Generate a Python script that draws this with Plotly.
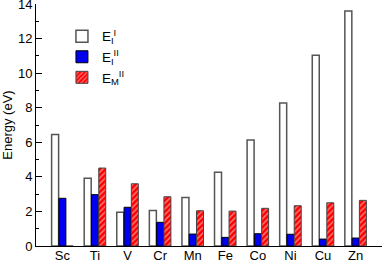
import plotly.graph_objects as go

elements = ["Sc", "Ti", "V", "Cr", "Mn", "Fe", "Co", "Ni", "Cu", "Zn"]
e_i_1 = [6.45, 3.92, 1.95, 2.06, 2.80, 4.26, 6.13, 8.27, 11.03, 13.59]
e_i_2 = [2.76, 2.97, 2.24, 1.37, 0.69, 0.50, 0.71, 0.68, 0.40, 0.46]
e_m_2 = [0.0, 4.51, 3.60, 2.85, 2.04, 2.02, 2.18, 2.33, 2.50, 2.64]
y_ticks = [0, 2, 4, 6, 8, 10, 12, 14]

x = list(range(len(elements)))

fig = go.Figure()
fig.add_trace(go.Bar(
    x=x, y=e_i_1, name="E<sub>I</sub><sup>I</sup>",
    marker=dict(color="white", line=dict(color="#555555", width=1.5)),
))
fig.add_trace(go.Bar(
    x=x, y=e_i_2, name="E<sub>I</sub><sup>II</sup>",
    marker=dict(color="#0000ee", line=dict(color="black", width=1)),
))
fig.add_trace(go.Bar(
    x=x, y=e_m_2, name="E<sub>M</sub><sup>II</sup>",
    marker=dict(color="#ff0000", line=dict(color="#444444", width=1),
                pattern=dict(shape="/", fgcolor="white", fillmode="overlay",
                             size=4, solidity=0.35)),
))

fig.update_layout(
    width=382, height=261,
    margin=dict(l=36, r=0, t=4, b=15, autoexpand=False),
    paper_bgcolor="white", plot_bgcolor="white",
    barmode="group", bargap=0.33, bargroupgap=0.04,
    font=dict(family="Liberation Sans, Arial", size=12, color="black"),
    showlegend=True,
    legend=dict(x=0.075, y=0.93, xanchor="left", yanchor="top",
                bgcolor="rgba(0,0,0,0)", font=dict(size=13.5),
                itemwidth=30, tracegroupgap=0),
)
fig.update_xaxes(
    range=[-0.81, 9.81], tickmode="array", tickvals=x, ticktext=elements,
    showline=True, linecolor="black", linewidth=1, ticks="",
    showgrid=False, zeroline=False, tickfont=dict(size=13),
    automargin=False, ticklabelstandoff=-3,
)
fig.update_yaxes(
    range=[0, 14.001], tickvals=y_ticks,
    showline=True, linecolor="black", linewidth=1,
    ticks="inside", ticklen=6, tickcolor="black",
    minor=dict(ticks="inside", ticklen=3, dtick=1, tickcolor="black"),
    showgrid=False, zeroline=False,
    title=dict(text="Energy (eV)", font=dict(size=13), standoff=8),
    tickfont=dict(size=13), automargin=False, ticklabeloverflow="allow",
)

fig.write_html("out.html", config={"displayModeBar": False},
               post_script="document.body.style.margin='0';")
